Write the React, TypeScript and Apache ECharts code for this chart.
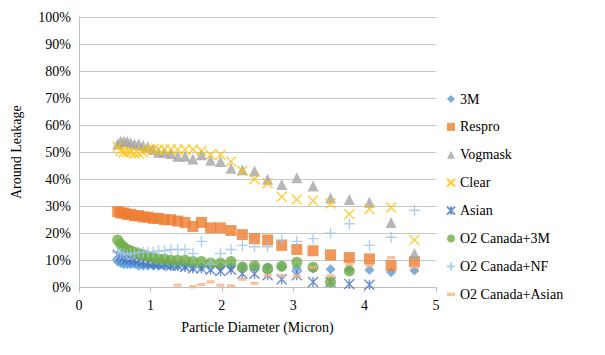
import React, { useEffect, useRef } from "react";
import * as echarts from "echarts";

const diameters = [0.542, 0.583, 0.626, 0.673, 0.723, 0.777, 0.835, 0.898, 0.965, 1.037, 1.114, 1.197, 1.286, 1.382, 1.486, 1.596, 1.715, 1.843, 1.981, 2.129, 2.288, 2.458, 2.642, 2.839, 3.051, 3.278, 3.523, 3.786, 4.068, 4.371, 4.698];

const m3 = [9.5, 9, 8.5, 8.5, 8.5, 8.5, 8, 8, 8, 8, 8, 8, 8, 8, 8, 7.5, 7.5, 7.5, 7.5, 7.5, 7.5, 7.5, 7.5, 7.5, 7, 7, 6.7, 6.5, 6.4, 5.6, 6.2];
const respro = [28, 27.5, 27.5, 27, 27, 26.5, 26.5, 26, 26, 25.5, 25.5, 25, 25, 24.5, 24, 22.5, 24, 22, 22, 21, 19.5, 18, 17.5, 15.5, 14, 13.5, 12, 11, 10.5, 8, 9.5];
const vogmask = [53, 54, 54, 54, 53.5, 53, 53, 52.5, 52, 51, 50, 50, 49.5, 48.5, 48.5, 47.5, 49, 47, 46.5, 44, 43.5, 43, 40, 38, 40.5, 37.5, 33, 32.5, 31.5, 24, 12.5];
const clear = [52, 50.5, 50, 50, 50, 49.5, 49.5, 50, 51, 51, 51, 51, 51, 51, 51, 51, 50.5, 49, 49, 46.5, 43, 40, 38.5, 33.5, 32.5, 32, 31, 27, 29, 29.5, 17.5];
const asian = [12, 11.5, 11, 10.5, 10.5, 10, 10, 9.5, 9, 9, 8.5, 8.5, 8, 8, 7.5, 7, 7, 6.5, 6, 6.5, 5, 5, 4.5, 3, 4.5, 2, 2, 1.2, 0.9, null, null];
const o2m3 = [17.5, 16, 15, 14, 13.5, 13, 12.5, 12, 11.5, 11, 10.5, 10.5, 10, 10, 10, 9.5, 9.5, 9, 9, 9.5, 7.5, 8, 7, 7.8, 9.3, 7.4, 2, 6, null, null, null];
const o2nf = [13, 12.5, 12.5, 12, 12.5, 12.5, 13, 13, 13, 13, 13.5, 13.5, 14, 14, 14, 12.5, 17, 8.5, 12.5, 14, 15.5, 15, 15, 17.5, 17, 18, 20, 23.5, 15.5, 18.5, 28.5];
const o2asian = [null, null, null, null, null, null, null, null, null, null, null, null, null, 0.8, null, 0.2, 1.0, 2.0, 0.8, 0.5, 3, 1.5, 4.5, 4.2, 4.2, 7.4, 4.2, 8.5, 8, 11, 7.5];

const seriesNames = ["3M", "Respro", "Vogmask", "Clear", "Asian", "O2 Canada+3M", "O2 Canada+NF", "O2 Canada+Asian"];
const yTicks = ["0%", "10%", "20%", "30%", "40%", "50%", "60%", "70%", "80%", "90%", "100%"];

const FONT = "'Liberation Serif', 'Times New Roman', serif";

function pts(vals: (number | null)[]) {
  const out: [number, number][] = [];
  vals.forEach((v, i) => {
    if (v !== null) out.push([diameters[i], v]);
  });
  return out;
}

export default function App() {
  const ref = useRef<HTMLDivElement>(null);
  useEffect(() => {
    if (!ref.current) return;
    const chart = echarts.init(ref.current, null, { renderer: "svg" });
    const xPath = "path://M0 0L10 10M10 0L0 10";
    const starPath = "path://M0 0L10 10M10 0L0 10M5 0L5 10";
    const plusPath = "path://M5 0L5 10M0 5L10 5";
    const dashPath = "path://M0 0H10V4H0Z";
    const strokeStyle = (c: string) => ({ color: "rgba(0,0,0,0)", borderColor: c, borderWidth: 1.4 });
    const defs: any[] = [
      { data: m3, symbol: "diamond", size: 10, itemStyle: { color: "#5B9BD5" } },
      { data: respro, symbol: "rect", size: 11, itemStyle: { color: "#ED7D31" } },
      { data: vogmask, symbol: "triangle", size: 11, itemStyle: { color: "#A5A5A5" } },
      { data: clear, symbol: xPath, size: 10, itemStyle: strokeStyle("#FFC000") },
      { data: asian, symbol: starPath, size: 10, itemStyle: strokeStyle("#4472C4") },
      { data: o2m3, symbol: "circle", size: 11, itemStyle: { color: "#70AD47" } },
      { data: o2nf, symbol: plusPath, size: 11, itemStyle: strokeStyle("#9DC3E6") },
      { data: o2asian, symbol: dashPath, size: 8, keep: true, itemStyle: { color: "#F4B183" } },
    ];
    chart.setOption({
      animation: false,
      backgroundColor: "#ffffff",
      textStyle: { fontFamily: FONT },
      grid: { left: 79, right: 169, top: 17, bottom: 67.7, containLabel: false },
      legend: {
        orient: "vertical",
        left: 441,
        top: 86,
        itemWidth: 8,
        itemHeight: 8,
        itemGap: 11.9,
        textStyle: { fontFamily: FONT, fontSize: 14, color: "#000", lineHeight: 16 },
        data: seriesNames,
      },
      xAxis: {
        type: "value",
        min: 0,
        max: 5,
        interval: 1,
        name: "Particle Diameter (Micron)",
        nameLocation: "middle",
        nameGap: 33,
        nameTextStyle: { fontFamily: FONT, fontSize: 14, color: "#000" },
        axisLine: { show: true, lineStyle: { color: "#BFBFBF" } },
        axisTick: { show: true, length: 5, lineStyle: { color: "#BFBFBF" } },
        axisLabel: { fontFamily: FONT, fontSize: 14, color: "#000", margin: 11 },
        splitLine: { show: false },
      },
      yAxis: {
        type: "value",
        min: 0,
        max: 100,
        interval: 10,
        name: "Around Leakage",
        nameLocation: "middle",
        nameGap: 56,
        nameRotate: 90,
        nameTextStyle: { fontFamily: FONT, fontSize: 14, color: "#000" },
        axisLine: { show: true, lineStyle: { color: "#BFBFBF" } },
        axisTick: { show: false },
        axisLabel: {
          fontFamily: FONT,
          fontSize: 14,
          color: "#000",
          margin: 8,
          formatter: (v: number) => yTicks[Math.round(v / 10)],
        },
        splitLine: { show: true, lineStyle: { color: "#C6C6C6", width: 1 } },
      },
      series: defs.map((d, i) => ({
        name: seriesNames[i],
        type: "scatter",
        symbol: d.symbol,
        symbolSize: d.size,
        symbolKeepAspect: !!d.keep,
        itemStyle: d.itemStyle,
        data: pts(d.data),
        emphasis: { disabled: true },
      })),
    });
    return () => chart.dispose();
  }, []);
  return <div ref={ref} style={{ position: "fixed", left: 0, top: 0, width: 605, height: 355 }} />;
}
